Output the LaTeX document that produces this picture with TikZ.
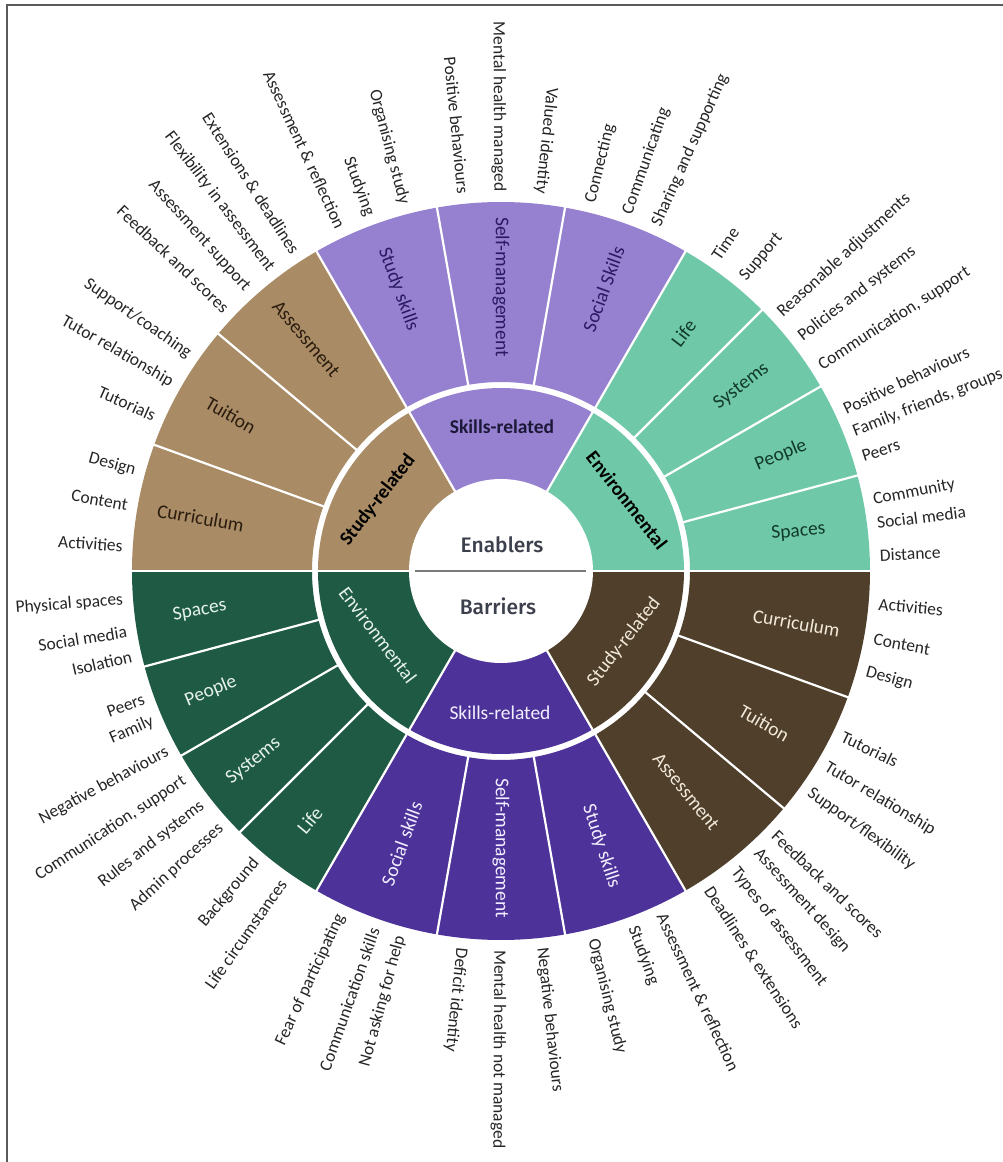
\documentclass[tikz,border=0pt]{standalone}
\usepackage{fontspec}
\setmainfont{Carlito}
\newfontfamily\cfont{Fira Sans}[UprightFont=* Medium]
\definecolor{ebrown}{HTML}{A98B65}
\definecolor{epurple}{HTML}{9681D0}
\definecolor{eteal}{HTML}{6FC9A9}
\definecolor{bgreen}{HTML}{1F5A45}
\definecolor{bpurple}{HTML}{4C3299}
\definecolor{bbrown}{HTML}{4F3F2B}
\definecolor{tbrown}{HTML}{2A1C0E}
\definecolor{tpurple}{HTML}{2B1A63}
\definecolor{tteal}{HTML}{113A2A}
\definecolor{lgreen}{HTML}{E6F2EC}
\definecolor{lpurple}{HTML}{F2EEFF}
\definecolor{lbrown}{HTML}{F2E9DA}
\definecolor{extgray}{HTML}{262626}
\definecolor{framegray}{HTML}{5A5A5A}
\definecolor{divgray}{HTML}{7A7A7A}
\definecolor{centtext}{HTML}{3C404C}
\definecolor{skilltext}{HTML}{1C1838}
\newcommand\mysector[5]{\fill[#1] (#2:#4) arc[start angle=#2,end angle=#3,radius=#4] -- (#3:#5) arc[start angle=#3,end angle=#2,radius=#5] -- cycle;}
\tikzset{
  extlab/.style={font=\fontsize{17.5}{20}\selectfont, text=extgray, inner sep=0pt},
  seglab/.style={font=\fontsize{19.5}{22}\selectfont, inner sep=0pt},
  innlab/.style={font=\fontsize{19.5}{22}\selectfont, inner sep=0pt},
  innbold/.style={font=\bfseries\fontsize{19.5}{22}\selectfont, inner sep=0pt},
  centlab/.style={font=\cfont\fontsize{21}{24}\selectfont, text=centtext},
  sepline/.style={white, line width=2.2pt},
}
\begin{document}
\begin{tikzpicture}[x=1pt,y=1pt]
\useasboundingbox (-501,-591) rectangle (502,571);
\fill[white] (-501,-591) rectangle (502,571);
% frame
\draw[framegray, line width=2pt] (-494,-591) -- (-494,566) -- (502,566);
% outer ring
\mysector{ebrown}{120}{180}{189}{369}
\mysector{epurple}{60}{120}{189}{369}
\mysector{eteal}{0}{60}{189}{369}
\mysector{bgreen}{180}{240}{189}{369}
\mysector{bpurple}{240}{300}{189}{369}
\mysector{bbrown}{300}{360}{189}{369}
% inner ring
\mysector{ebrown}{120}{180}{91}{183}
\mysector{epurple}{60}{120}{91}{183}
\mysector{eteal}{0}{60}{91}{183}
\mysector{bgreen}{180}{240}{91}{183}
\mysector{bpurple}{240}{300}{91}{183}
\mysector{bbrown}{300}{360}{91}{183}
% separators
\foreach \a in {0,15,30,45,60,80,100,120,140,160,180,195,210,225,240,260,280,300,320,340}
  \draw[sepline] (\a:188) -- (\a:370);
\foreach \a in {0,60,120,180,240,300}
  \draw[sepline] (\a:90) -- (\a:184);
% centre
\fill[white] (0,0) circle[radius=92];
\draw[divgray, line width=1.5pt] (-86,0) -- (85,0);
\node[centlab] (enab) at (1,26) {Enablers};
\node[centlab] (barr) at (-3,-35) {Barriers};
% inner labels
\node[innbold, text=black, rotate=52] (ienst) at (-123,71) {Study-related};
\node[innbold, text=skilltext] (iensk) at (1,144) {Skills-related};
\node[innbold, text=black, rotate=-52] (ienen) at (126,71) {Environmental};
\node[innlab, text=lgreen, rotate=-53] (iben) at (-123,-64) {Environmental};
\node[innlab, text=lpurple] (ibsk) at (-1,-142) {Skills-related};
\node[innlab, text=lbrown, rotate=52] (ibst) at (123,-71) {Study-related};
% outer segment labels
\foreach \a/\r/\rot/\t/\c [count=\i] in {
  170/305/-10/Curriculum/tbrown, 150/312/-30/Tuition/tbrown, 130/303/-50/Assessment/tbrown,
  110/300/-70/Study skills/tpurple, 90/284/-90/Self-management/tpurple, 70/300/70/Social Skills/tpurple,
  52.5/300/52.5/Life/tteal, 37.5/303/37.5/Systems/tteal, 22.5/303/22.5/People/tteal, 7.5/300/5/Spaces/tteal,
  187.5/304/10/Spaces/lgreen, 202.5/314/22.5/People/lgreen, 217.5/312/39/Systems/lgreen, 232.5/314/50/Life/lgreen,
  250/290/70/Social skills/lpurple, 270/277/-90/Self-management/lpurple, 290/293/-72/Study skills/lpurple,
  310/288/-51/Assessment/lbrown, 330/304/-30/Tuition/lbrown, 350/300/-10/Curriculum/lbrown}
  \node[seglab, text=\c, rotate=\rot] (seg\i) at (\a:\r) {\t};
% external labels, left convention (text ends at the ring)
\foreach \a/\t [count=\i] in {
  176.2/Activities, 170/Content, 164.7/Design, 155.9/Tutorials, 150.2/Tutor relationship,
  145.2/Support\slash coaching, 136.4/Feedback and scores, 132/Assessment support,
  127.3/Flexibility in assessment, 122.8/Extensions \& deadlines, 115/Assessment \& reflection,
  110.3/Studying, 104.8/Organising study, 95.7/Positive behaviours, 90.3/Mental health managed,
  84/Valued identity,
  184.4/Physical spaces, 189.2/Social media, 193/Isolation, 199.7/Peers, 203.3/Family,
  208.4/Negative behaviours, 213.4/{Communication, support}, 218/Rules and systems,
  222.4/Admin processes, 229.8/Background, 234.9/Life circumstances, 245/Fear of participating,
  250.5/Communication skills, 254.6/Not asking for help}
  \node[extlab, rotate=\a-180, anchor=east] (exl\i) at (\a:379) {\t};
% external labels, right convention (text starts at the ring)
\foreach \a/\t [count=\i] in {
  76.3/Connecting, 70.5/Communicating, 65.8/Sharing and supporting, 55.6/Time, 50.3/Support,
  42.6/Reasonable adjustments, 37.9/Policies and systems, 32.7/{Communication, support},
  25.2/Positive behaviours, 21.5/{Family, friends, groups}, 17.6/Peers, 10.8/Community,
  7.3/Social media, 2.4/Distance,
  -5/Activities, -10.4/Content, -15.5/Design, -25.8/Tutorials, -31/Tutor relationship,
  -35.6/Support\slash flexibility, -43.8/Feedback and scores, -47.6/Assessment design,
  -52/Types of assessment, -56.8/Deadlines \& extensions, -64.9/Assessment \& reflection,
  -69.7/Studying, -76/Organising study, -83.8/Negative behaviours, -90.3/Mental health not managed,
  -96/Deficit identity}
  \node[extlab, rotate=\a, anchor=west] (exr\i) at (\a:379) {\t};
\end{tikzpicture}
\end{document}
